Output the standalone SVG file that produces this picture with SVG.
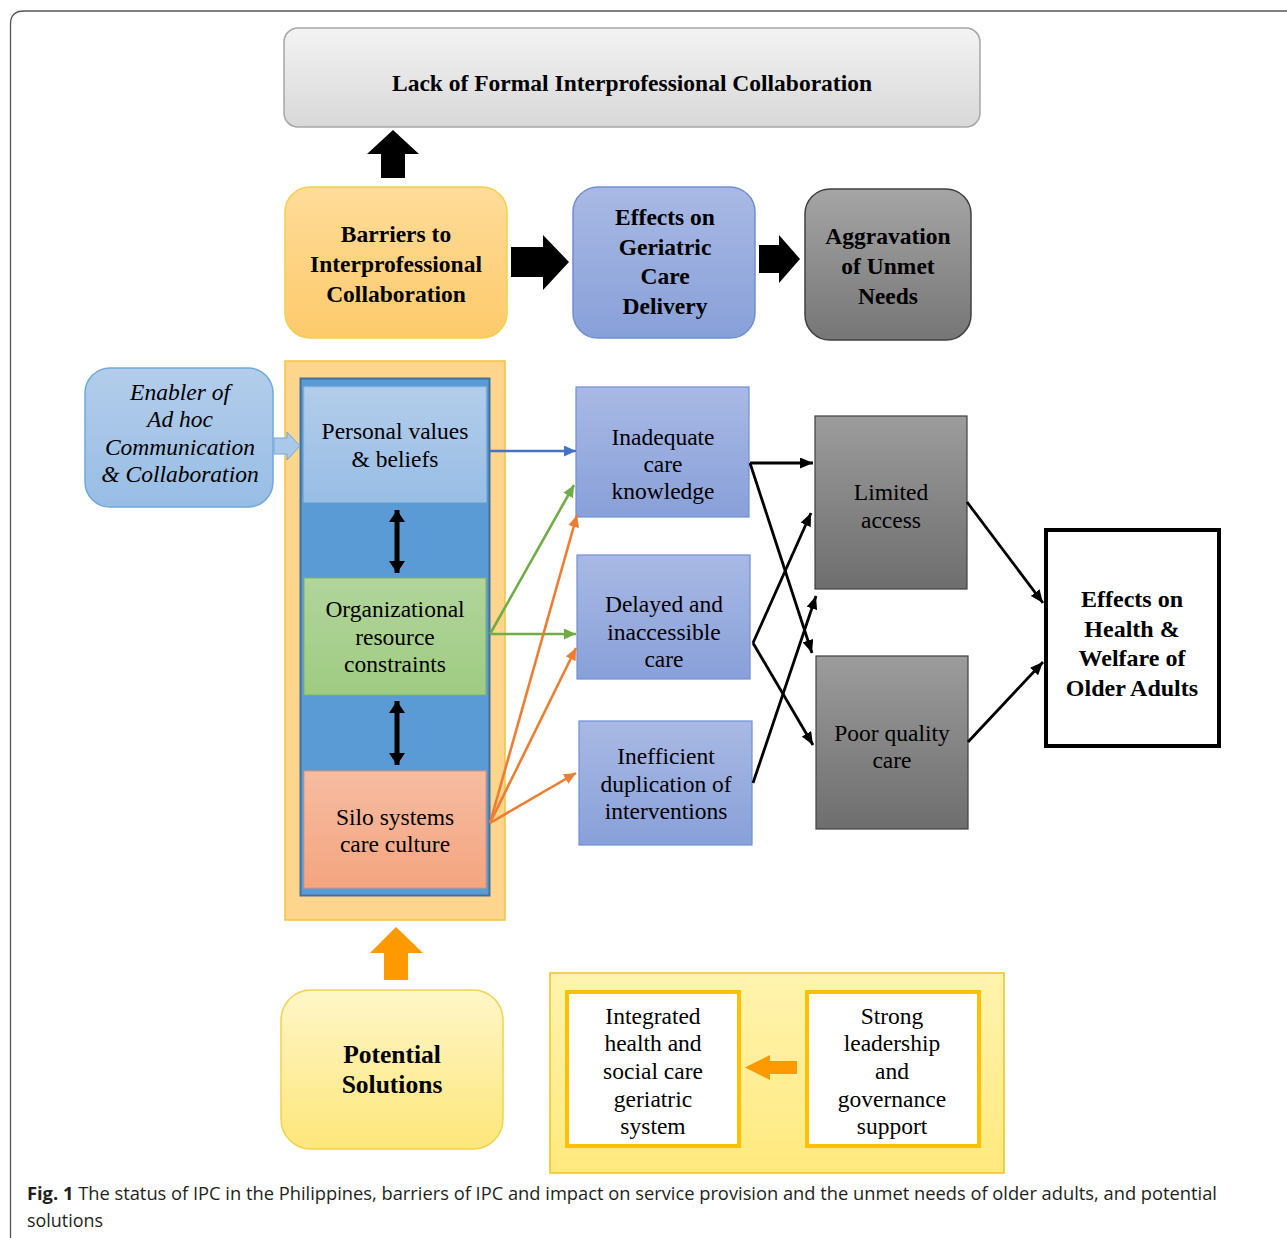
<svg xmlns="http://www.w3.org/2000/svg" width="1287" height="1238" viewBox="0 0 1287 1238">
<style>
.t{font-family:"Liberation Serif","Times New Roman",serif;font-size:23.5px;fill:#000;text-anchor:middle}
.b{font-weight:bold}
.i{font-style:italic}
.cap{font-family:"Open Sans","Liberation Sans",sans-serif;font-size:18px;fill:#231f20}
</style>
<defs>
<linearGradient id="gGray" x1="0" y1="0" x2="0" y2="1"><stop offset="0" stop-color="#f3f3f3"/><stop offset="1" stop-color="#d8d8d8"/></linearGradient>
<linearGradient id="gOrange" x1="0" y1="0" x2="0" y2="1"><stop offset="0" stop-color="#ffdc9a"/><stop offset="1" stop-color="#fdca6a"/></linearGradient>
<linearGradient id="gBlue" x1="0" y1="0" x2="0" y2="1"><stop offset="0" stop-color="#a9b9e4"/><stop offset="1" stop-color="#88a0d9"/></linearGradient>
<linearGradient id="gDark" x1="0" y1="0" x2="0" y2="1"><stop offset="0" stop-color="#a5a5a5"/><stop offset="1" stop-color="#767676"/></linearGradient>
<linearGradient id="gDark2" x1="0" y1="0" x2="0" y2="1"><stop offset="0" stop-color="#9c9c9c"/><stop offset="1" stop-color="#6e6e6e"/></linearGradient>
<linearGradient id="gLB" x1="0" y1="0" x2="0" y2="1"><stop offset="0" stop-color="#b3cdeb"/><stop offset="1" stop-color="#98bde5"/></linearGradient>
<linearGradient id="gGreen" x1="0" y1="0" x2="0" y2="1"><stop offset="0" stop-color="#b2d59b"/><stop offset="1" stop-color="#9ecb82"/></linearGradient>
<linearGradient id="gSalmon" x1="0" y1="0" x2="0" y2="1"><stop offset="0" stop-color="#f6bca2"/><stop offset="1" stop-color="#f4a57f"/></linearGradient>
<linearGradient id="gYel" x1="0" y1="0" x2="0" y2="1"><stop offset="0" stop-color="#fff6c8"/><stop offset="1" stop-color="#fde77a"/></linearGradient>
<linearGradient id="gYel2" x1="0" y1="0" x2="0" y2="1"><stop offset="0" stop-color="#fff4b0"/><stop offset="1" stop-color="#ffe97e"/></linearGradient>
<marker id="mBlk" viewBox="0 0 13 11" refX="13" refY="5.5" markerWidth="13" markerHeight="11" markerUnits="userSpaceOnUse" orient="auto"><path d="M0,0 L13,5.5 L0,11 z" fill="#000"/></marker>
<marker id="mBlu" viewBox="0 0 12 11" refX="12" refY="5.5" markerWidth="12" markerHeight="11" markerUnits="userSpaceOnUse" orient="auto"><path d="M0,0 L12,5.5 L0,11 z" fill="#4472c4"/></marker>
<marker id="mGrn" viewBox="0 0 12 11" refX="12" refY="5.5" markerWidth="12" markerHeight="11" markerUnits="userSpaceOnUse" orient="auto"><path d="M0,0 L12,5.5 L0,11 z" fill="#70ad47"/></marker>
<marker id="mOrg" viewBox="0 0 12 11" refX="12" refY="5.5" markerWidth="12" markerHeight="11" markerUnits="userSpaceOnUse" orient="auto"><path d="M0,0 L12,5.5 L0,11 z" fill="#ed7d31"/></marker>
<marker id="mDbl" viewBox="0 0 12 16" refX="12" refY="8" markerWidth="12" markerHeight="16" markerUnits="userSpaceOnUse" orient="auto-start-reverse"><path d="M0,0 L12,8 L0,16 z" fill="#000"/></marker>
</defs>

<path d="M10.5 1238 L10.5 24 Q10.5 11 24 11 L1287 11" fill="none" stroke="#555" stroke-width="1.3"/>

<g id="lack">
<rect x="284" y="28" width="696" height="99" rx="14" fill="url(#gGray)" stroke="#a6a6a6" stroke-width="1.5"/>
<text class="t b" x="632" y="91">Lack of Formal Interprofessional Collaboration</text>
</g>

<g id="barriers">
<rect x="285" y="187" width="222" height="151" rx="25" fill="url(#gOrange)" stroke="#f4cf4a" stroke-width="1.5"/>
<text class="t b" x="396" y="242">Barriers to</text>
<text class="t b" x="396" y="272">Interprofessional</text>
<text class="t b" x="396" y="302">Collaboration</text>
</g>

<g id="effects-geriatric">
<rect x="573" y="187" width="182" height="151" rx="25" fill="url(#gBlue)" stroke="#6f8fd4" stroke-width="1.5"/>
<text class="t b" x="665" y="225">Effects on</text>
<text class="t b" x="665" y="255">Geriatric</text>
<text class="t b" x="665" y="284">Care</text>
<text class="t b" x="665" y="314">Delivery</text>
</g>

<g id="aggravation">
<rect x="805" y="189" width="166" height="151" rx="25" fill="url(#gDark)" stroke="#404040" stroke-width="1.5"/>
<text class="t b" x="888" y="244">Aggravation</text>
<text class="t b" x="888" y="274">of Unmet</text>
<text class="t b" x="888" y="304">Needs</text>
</g>

<g id="enabler">
<rect x="85" y="368" width="188" height="139" rx="25" fill="url(#gLB)" stroke="#6fa8dc" stroke-width="1.5"/>
<text class="t i" x="180" y="400">Enabler of</text>
<text class="t i" x="180" y="427">Ad hoc</text>
<text class="t i" x="180" y="455">Communication</text>
<text class="t i" x="180" y="482">&amp; Collaboration</text>
</g>

<g id="barrier-column">
<rect x="285" y="361" width="220" height="559" fill="#fed58c" stroke="#f5c242" stroke-width="1.5"/>
<rect x="300.5" y="378.5" width="189" height="517" fill="#5b9bd5" stroke="#41719c" stroke-width="2"/>
</g>

<g id="personal">
<rect x="304" y="387" width="182" height="115" fill="url(#gLB)" stroke="#9cc2e5" stroke-width="1"/>
<text class="t" x="395" y="439">Personal values</text>
<text class="t" x="395" y="467">&amp; beliefs</text>
</g>

<g id="organizational">
<rect x="304" y="578" width="182" height="117" fill="url(#gGreen)" stroke="#7fb35c" stroke-width="1"/>
<text class="t" x="395" y="617">Organizational</text>
<text class="t" x="395" y="645">resource</text>
<text class="t" x="395" y="672">constraints</text>
</g>

<g id="silo">
<rect x="304" y="771" width="182" height="117" fill="url(#gSalmon)" stroke="#e8936c" stroke-width="1"/>
<text class="t" x="395" y="825">Silo systems</text>
<text class="t" x="395" y="852">care culture</text>
</g>

<g id="inadequate">
<rect x="576" y="387" width="173" height="130" fill="url(#gBlue)" stroke="#6f8fd4" stroke-width="1.2"/>
<text class="t" x="663" y="445">Inadequate</text>
<text class="t" x="663" y="472">care</text>
<text class="t" x="663" y="499">knowledge</text>
</g>

<g id="delayed">
<rect x="577" y="555" width="173" height="124" fill="url(#gBlue)" stroke="#6f8fd4" stroke-width="1.2"/>
<text class="t" x="664" y="612">Delayed and</text>
<text class="t" x="664" y="640">inaccessible</text>
<text class="t" x="664" y="667">care</text>
</g>

<g id="inefficient">
<rect x="579" y="721" width="173" height="124" fill="url(#gBlue)" stroke="#6f8fd4" stroke-width="1.2"/>
<text class="t" x="666" y="764">Inefficient</text>
<text class="t" x="666" y="792">duplication of</text>
<text class="t" x="666" y="819">interventions</text>
</g>

<g id="limited">
<rect x="815" y="416" width="152" height="173" fill="url(#gDark2)" stroke="#404040" stroke-width="1.2"/>
<text class="t" x="891" y="500" fill="#222">Limited</text>
<text class="t" x="891" y="528" fill="#222">access</text>
</g>

<g id="poor">
<rect x="816" y="656" width="152" height="173" fill="url(#gDark2)" stroke="#404040" stroke-width="1.2"/>
<text class="t" x="892" y="741">Poor quality</text>
<text class="t" x="892" y="768">care</text>
</g>

<g id="health">
<rect x="1046" y="530" width="173" height="216" fill="#fff" stroke="#000" stroke-width="4"/>
<text class="t b" x="1132" y="607" style="font-size:24px">Effects on</text>
<text class="t b" x="1132" y="637" style="font-size:24px">Health &amp;</text>
<text class="t b" x="1132" y="666" style="font-size:24px">Welfare of</text>
<text class="t b" x="1132" y="696" style="font-size:24px">Older Adults</text>
</g>

<g id="potential">
<rect x="281" y="990" width="222" height="159" rx="30" fill="url(#gYel)" stroke="#f2d24a" stroke-width="1.5"/>
<text class="t b" x="392" y="1063" style="font-size:25.5px">Potential</text>
<text class="t b" x="392" y="1093" style="font-size:25.5px">Solutions</text>
</g>

<g id="solutions-panel">
<rect x="550" y="973" width="454" height="200" fill="url(#gYel2)" stroke="#f2c21b" stroke-width="1.5"/>
</g>

<g id="integrated">
<rect x="567" y="992" width="172" height="154" fill="#fff" stroke="#ffc000" stroke-width="4"/>
<text class="t" x="653" y="1024">Integrated</text>
<text class="t" x="653" y="1051">health and</text>
<text class="t" x="653" y="1079">social care</text>
<text class="t" x="653" y="1107">geriatric</text>
<text class="t" x="653" y="1134">system</text>
</g>

<g id="strong">
<rect x="807" y="992" width="172" height="154" fill="#fff" stroke="#ffc000" stroke-width="4"/>
<text class="t" x="892" y="1024">Strong</text>
<text class="t" x="892" y="1051">leadership</text>
<text class="t" x="892" y="1079">and</text>
<text class="t" x="892" y="1107">governance</text>
<text class="t" x="892" y="1134">support</text>
</g>

<g id="connectors">
<path d="M393 130 L419 154 L405 154 L405 178 L381 178 L381 154 L367 154 Z" fill="#000"/>
<path d="M511 247 L543 247 L543 235 L569 262 L543 290 L543 277 L511 277 Z" fill="#000"/>
<path d="M759 245 L779 245 L779 235 L800 259 L779 283 L779 273 L759 273 Z" fill="#000"/>
<path d="M274 438 L287 438 L287 432 L300 446 L287 460 L287 454 L274 454 Z" fill="#a9c8ea" stroke="#6fa8dc" stroke-width="1"/>
<path d="M396 927 L423 953 L408 953 L408 980 L384 980 L384 953 L370 953 Z" fill="#ff9900"/>
<path d="M797 1061 L770 1061 L770 1055 L745 1067.5 L770 1080 L770 1074 L797 1074 Z" fill="#ff9900"/>
<line x1="397" y1="510" x2="397" y2="573" stroke="#000" stroke-width="5" marker-start="url(#mDbl)" marker-end="url(#mDbl)"/>
<line x1="397" y1="701" x2="397" y2="765" stroke="#000" stroke-width="5" marker-start="url(#mDbl)" marker-end="url(#mDbl)"/>
<g fill="none" stroke-width="2.6">
<line x1="490" y1="451" x2="576" y2="451" stroke="#4472c4" marker-end="url(#mBlu)"/>
<line x1="490" y1="634" x2="574" y2="485" stroke="#70ad47" marker-end="url(#mGrn)"/>
<line x1="490" y1="634" x2="576" y2="634" stroke="#70ad47" marker-end="url(#mGrn)"/>
<line x1="490" y1="823" x2="577" y2="515" stroke="#ed7d31" marker-end="url(#mOrg)"/>
<line x1="490" y1="823" x2="576" y2="648" stroke="#ed7d31" marker-end="url(#mOrg)"/>
<line x1="490" y1="823" x2="576" y2="773" stroke="#ed7d31" marker-end="url(#mOrg)"/>
</g>
<g fill="none" stroke="#000" stroke-width="2.8">
<line x1="750" y1="463" x2="813" y2="463" marker-end="url(#mBlk)"/>
<line x1="750" y1="463" x2="812" y2="653" marker-end="url(#mBlk)"/>
<line x1="753" y1="643" x2="811" y2="513" marker-end="url(#mBlk)"/>
<line x1="753" y1="643" x2="813" y2="745" marker-end="url(#mBlk)"/>
<line x1="753" y1="783" x2="816" y2="596" marker-end="url(#mBlk)"/>
<line x1="967" y1="502" x2="1043" y2="603" marker-end="url(#mBlk)"/>
<line x1="968" y1="742" x2="1043" y2="662" marker-end="url(#mBlk)"/>
</g>
</g>

<text class="cap" x="27" y="1200" textLength="1190" lengthAdjust="spacingAndGlyphs"><tspan font-weight="bold">Fig. 1</tspan>  The status of IPC in the Philippines, barriers of IPC and impact on service provision and the unmet needs of older adults, and potential</text>
<text class="cap" x="27" y="1227" textLength="76" lengthAdjust="spacingAndGlyphs">solutions</text>
</svg>
